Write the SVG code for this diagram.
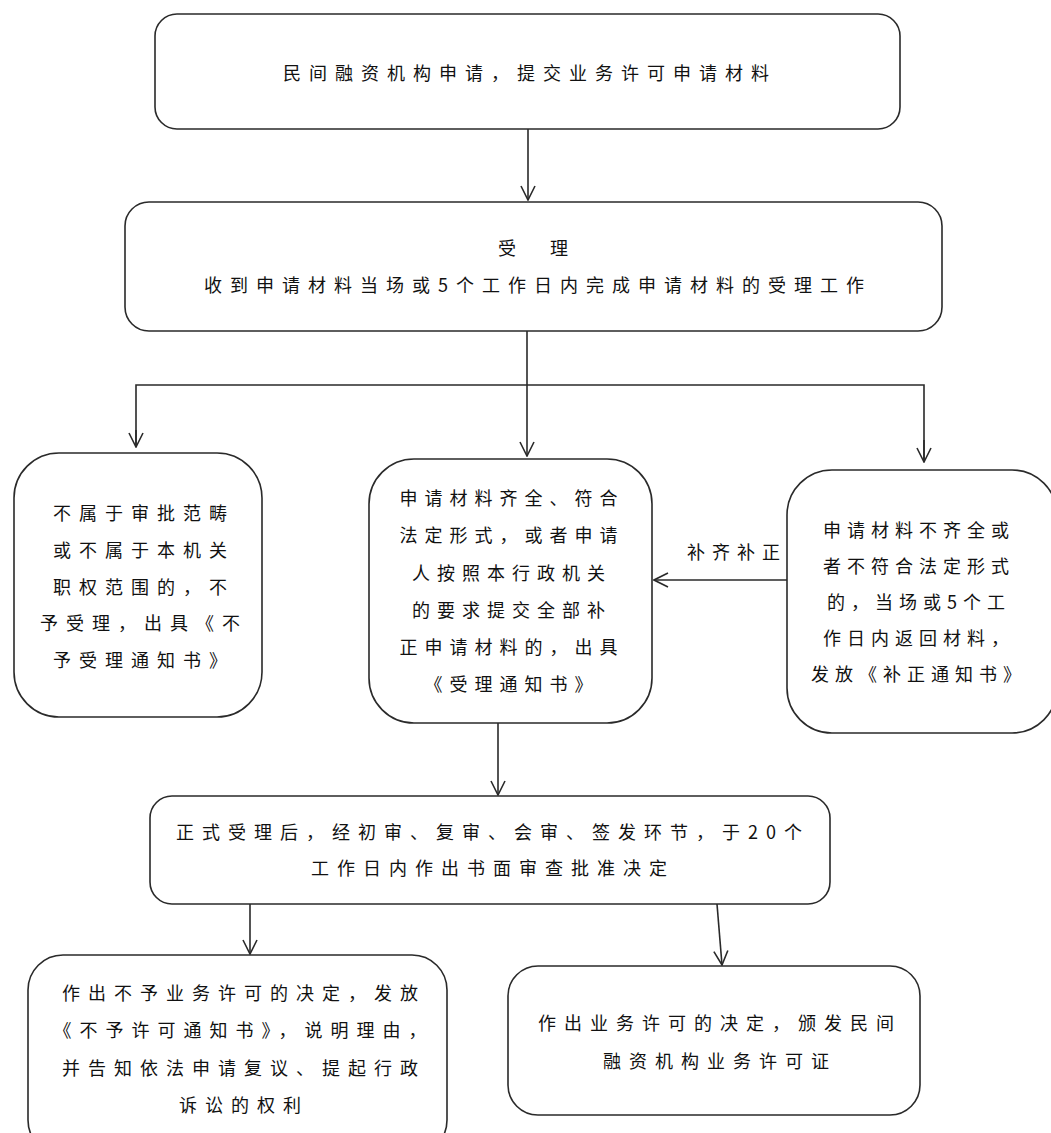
<svg xmlns="http://www.w3.org/2000/svg" width="1051" height="1133" viewBox="0 0 1051 1133">
<defs>
<style>
.box{fill:#fff;stroke:#2a2a2a;stroke-width:1.6}
.t{font-family:"Noto Sans CJK SC","Noto Sans",sans-serif;font-size:18px;fill:#111;text-anchor:middle;letter-spacing:8px}
.c{fill:none;stroke:#2a2a2a;stroke-width:1.6}
</style>
<marker id="ah" markerWidth="16" markerHeight="16" refX="15" refY="8" orient="auto" markerUnits="userSpaceOnUse" viewBox="0 0 16 16">
<polyline points="1,1 15,8 1,15" fill="none" stroke="#2a2a2a" stroke-width="1.6"/>
</marker>
</defs>
<rect width="1051" height="1133" fill="#fff"/>
<g id="connectors">
<line class="c" x1="528" y1="129" x2="528" y2="200" marker-end="url(#ah)"/>
<line class="c" x1="527" y1="331" x2="527" y2="456" marker-end="url(#ah)"/>
<polyline class="c" points="136,446 136,385 924,385 924,461"/>
<line class="c" x1="136" y1="430" x2="136" y2="447" marker-end="url(#ah)"/>
<line class="c" x1="924" y1="440" x2="924" y2="462" marker-end="url(#ah)"/>
<line class="c" x1="787" y1="580" x2="654" y2="580" marker-end="url(#ah)"/>
<text class="t" x="737" y="559" style="letter-spacing:7px">补齐补正</text>
<line class="c" x1="498" y1="723" x2="498" y2="795" marker-end="url(#ah)"/>
<line class="c" x1="250" y1="904" x2="250" y2="954" marker-end="url(#ah)"/>
<line class="c" x1="717" y1="904" x2="722" y2="965" marker-end="url(#ah)"/>
</g>
<g id="n1">
<rect class="box" x="155" y="14" width="745" height="115" rx="22"/>
<text class="t" x="530" y="80">民间融资机构申请，提交业务许可申请材料</text>
</g>
<g id="n2">
<rect class="box" x="125" y="202" width="817" height="129" rx="24"/>
<text class="t" x="537" y="255">受　理</text>
<text class="t" x="538" y="292">收到申请材料当场或5个工作日内完成申请材料的受理工作</text>
</g>
<g id="n3">
<rect class="box" x="14" y="453" width="248" height="264" rx="45"/>
<text class="t" x="144" y="520">不属于审批范畴</text>
<text class="t" x="144" y="557">或不属于本机关</text>
<text class="t" x="144" y="594">职权范围的，不</text>
<text class="t" x="144" y="630">予受理，出具《不</text>
<text class="t" x="144" y="667">予受理通知书》</text>
</g>
<g id="n4" style="letter-spacing:7px">
<rect class="box" x="369" y="459" width="283" height="264" rx="45"/>
<text class="t" x="512" y="505" style="letter-spacing:7px">申请材料齐全、符合</text>
<text class="t" x="512" y="542" style="letter-spacing:7px">法定形式，或者申请</text>
<text class="t" x="512" y="580" style="letter-spacing:7px">人按照本行政机关</text>
<text class="t" x="512" y="617" style="letter-spacing:7px">的要求提交全部补</text>
<text class="t" x="512" y="654" style="letter-spacing:7px">正申请材料的，出具</text>
<text class="t" x="512" y="691" style="letter-spacing:7px">《受理通知书》</text>
</g>
<g id="n5">
<rect class="box" x="787" y="470" width="270" height="263" rx="45"/>
<text class="t" x="919" y="537" style="letter-spacing:6px">申请材料不齐全或</text>
<text class="t" x="919" y="573" style="letter-spacing:6px">者不符合法定形式</text>
<text class="t" x="919" y="609" style="letter-spacing:6px">的，当场或5个工</text>
<text class="t" x="919" y="645" style="letter-spacing:6px">作日内返回材料，</text>
<text class="t" x="919" y="681" style="letter-spacing:6px">发放《补正通知书》</text>
</g>
<g id="n6">
<rect class="box" x="150" y="796" width="680" height="108" rx="22"/>
<text class="t" x="493" y="839">正式受理后，经初审、复审、会审、签发环节，于20个</text>
<text class="t" x="493" y="875">工作日内作出书面审查批准决定</text>
</g>
<g id="n7">
<rect class="box" x="28" y="955" width="419" height="200" rx="35"/>
<text class="t" x="244" y="1000">作出不予业务许可的决定，发放</text>
<text class="t" x="244" y="1037">《不予许可通知书》，说明理由，</text>
<text class="t" x="244" y="1075">并告知依法申请复议、提起行政</text>
<text class="t" x="244" y="1112">诉讼的权利</text>
</g>
<g id="n8">
<rect class="box" x="508" y="966" width="412" height="149" rx="30"/>
<text class="t" x="720" y="1030">作出业务许可的决定，颁发民间</text>
<text class="t" x="720" y="1068">融资机构业务许可证</text>
</g>
</svg>
